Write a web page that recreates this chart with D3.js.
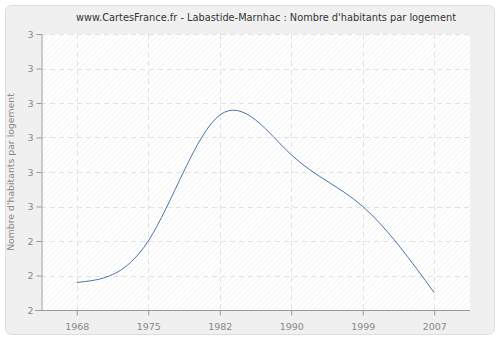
<!DOCTYPE html>
<html lang="fr">
<head>
    <meta charset="UTF-8">
    <title>Labastide-Marnhac</title>
    <script src="https://d3js.org/d3.v7.min.js"></script>
    <style>
        body { margin: 0; background: #ffffff; }
        svg { display: block; font-family: "DejaVu Sans", sans-serif; }
    </style>
</head>
<body>
    <div id="chart"></div>
    <script>
        // Données
        var years = ["1968", "1975", "1982", "1990", "1999", "2007"];
        var values = [2.28, 2.40, 2.765, 2.65, 2.50, 2.25];
        var yTicks = [2.2, 2.3, 2.4, 2.5, 2.6, 2.7, 2.8, 2.9, 3.0];

        var width = 500, height = 340;
        var margin = {left: 41, right: 30, top: 34, bottom: 30};

        var svg = d3.select("#chart").append("svg")
            .attr("width", width)
            .attr("height", height);

        // motif hachuré du fond
        var defs = svg.append("defs");
        var pat = defs.append("pattern")
            .attr("id", "hatch")
            .attr("patternUnits", "userSpaceOnUse")
            .attr("width", 4).attr("height", 4)
            .attr("patternTransform", "rotate(45)");
        pat.append("rect").attr("width", 4).attr("height", 4).attr("fill", "#ffffff");
        pat.append("line")
            .attr("x1", 0).attr("y1", 0).attr("x2", 0).attr("y2", 4)
            .attr("stroke", "#ececec").attr("stroke-width", 1);

        // cadre extérieur
        svg.append("rect")
            .attr("x", 5.5).attr("y", 5.5)
            .attr("width", 489).attr("height", 329)
            .attr("rx", 6)
            .attr("fill", "#f0f0f0")
            .attr("stroke", "#dddddd");

        var x = d3.scalePoint()
            .domain(years)
            .range([margin.left, width - margin.right])
            .padding(0.5);

        var y = d3.scaleLinear()
            .domain([2.2, 3.0])
            .range([height - margin.bottom, margin.top]);

        // zone du graphique
        svg.append("rect")
            .attr("x", margin.left).attr("y", margin.top)
            .attr("width", width - margin.left - margin.right)
            .attr("height", height - margin.top - margin.bottom)
            .attr("fill", "url(#hatch)");

        // grille
        svg.append("g")
            .selectAll("line")
            .data(yTicks.slice(1))
            .join("line")
            .attr("x1", margin.left).attr("x2", width - margin.right)
            .attr("y1", d => Math.round(y(d)) + 0.5)
            .attr("y2", d => Math.round(y(d)) + 0.5)
            .attr("stroke", "#e2e2e2")
            .attr("stroke-dasharray", "5,4");

        svg.append("g")
            .selectAll("line")
            .data(years)
            .join("line")
            .attr("x1", d => Math.round(x(d)) + 0.5)
            .attr("x2", d => Math.round(x(d)) + 0.5)
            .attr("y1", margin.top).attr("y2", height - margin.bottom)
            .attr("stroke", "#e2e2e2")
            .attr("stroke-dasharray", "5,4");

        // axes
        var yAxis = d3.axisLeft(y)
            .tickValues(yTicks)
            .tickSize(5)
            .tickFormat(d => Math.round(d));
        var gy = svg.append("g")
            .attr("transform", "translate(" + (margin.left + 0.5) + ",0)")
            .call(yAxis);

        var xAxis = d3.axisBottom(x).tickSize(5);
        var gx = svg.append("g")
            .attr("transform", "translate(0," + (height - margin.bottom + 0.5) + ")")
            .call(xAxis);

        gx.select(".domain").attr("d", "M" + (margin.left - 6) + ",0H" + (width - margin.right));

        [gx, gy].forEach(g => {
            g.select(".domain").attr("stroke", "#999999");
            g.selectAll(".tick line").attr("stroke", "#999999");
            g.selectAll(".tick text")
                .attr("fill", "#888888")
                .attr("font-size", 9.5)
                .attr("font-family", "DejaVu Sans, sans-serif");
        });
        gx.selectAll(".tick text").attr("dy", "1.25em");

        // courbe
        var line = d3.line()
            .x((d, i) => x(years[i]))
            .y(d => y(d))
            .curve(d3.curveNatural);

        svg.append("path")
            .datum(values)
            .attr("d", line)
            .attr("fill", "none")
            .attr("stroke", "#4a75aa")
            .attr("stroke-width", 1);

        // titres
        svg.append("text")
            .attr("x", 266).attr("y", 21)
            .attr("text-anchor", "middle")
            .attr("font-size", 9.8)
            .attr("fill", "#333333")
            .text("www.CartesFrance.fr - Labastide-Marnhac : Nombre d'habitants par logement");

        svg.append("text")
            .attr("transform", "translate(14," + ((margin.top + height - margin.bottom) / 2) + ") rotate(-90)")
            .attr("text-anchor", "middle")
            .attr("font-size", 9.3)
            .attr("fill", "#888888")
            .text("Nombre d'habitants par logement");
    </script>
</body>
</html>
